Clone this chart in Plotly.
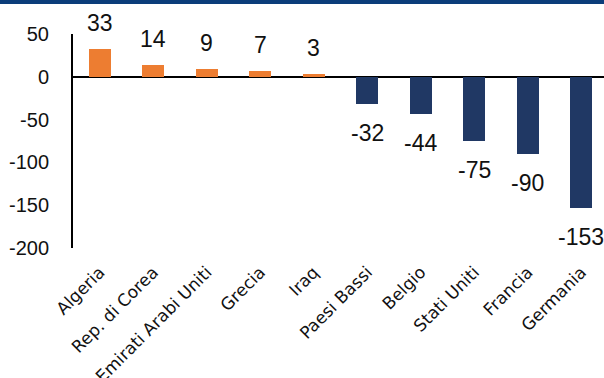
import plotly.graph_objects as go

# Saldo per paese (valori)
countries = ["Algeria", "Rep. di Corea", "Emirati Arabi Uniti", "Grecia", "Iraq",
             "Paesi Bassi", "Belgio", "Stati Uniti", "Francia", "Germania"]
values = [33, 14, 9, 7, 3, -32, -44, -75, -90, -153]
y_ticks = [50, 0, -50, -100, -150, -200]

ORANGE = "#ED7D31"
NAVY = "#203864"
NUM_FONT = "Liberation Sans"
CAT_FONT = "DejaVu Sans"

colors = [ORANGE if v >= 0 else NAVY for v in values]

fig = go.Figure()
fig.add_trace(go.Bar(
    x=list(range(len(countries))),
    y=values,
    marker=dict(color=colors, line=dict(width=0)),
    width=0.41,
    hoverinfo="skip",
))

# value labels, offset from the bar ends
for i, v in enumerate(values):
    fig.add_annotation(
        x=i, y=v, text=str(v), showarrow=False,
        yanchor="bottom" if v >= 0 else "top",
        yshift=11 if v >= 0 else -14,
        font=dict(family=NUM_FONT, size=23, color="#111111"),
    )

W, H = 604, 378
L, T, B = 73, 34, 130
plot_w = W - L
plot_h = H - T - B
band = 53.5

# top border stripe
fig.add_shape(type="rect", xref="paper", yref="paper",
              x0=-L / plot_w, x1=1.0, y0=1 + (T - 4) / plot_h, y1=1 + (T + 2) / plot_h,
              fillcolor="#0B3D7A", line=dict(width=0), layer="above")

fig.update_layout(
    width=W, height=H,
    margin=dict(l=L, r=0, t=T, b=B, autoexpand=False),
    plot_bgcolor="white", paper_bgcolor="white",
    showlegend=False,
    bargap=0,
    font=dict(family=NUM_FONT, color="#111111"),
    xaxis=dict(
        range=[-0.5, -0.5 + plot_w / band],
        tickmode="array",
        tickvals=list(range(len(countries))),
        ticktext=countries,
        tickangle=-45,
        tickfont=dict(family=CAT_FONT, size=17),
        showgrid=False, zeroline=False, showline=False,
        ticks="", ticklabelstandoff=10, automargin=False,
    ),
    yaxis=dict(
        range=[-200, 50],
        tickmode="array",
        tickvals=y_ticks,
        ticktext=[str(t) for t in y_ticks],
        tickfont=dict(family=NUM_FONT, size=20),
        showgrid=False,
        zeroline=True, zerolinecolor="#000000", zerolinewidth=2,
        showline=True, linecolor="#000000", linewidth=2,
        ticks="", ticklabelstandoff=18, automargin=False,
    ),
)

fig.write_html("out.html")
